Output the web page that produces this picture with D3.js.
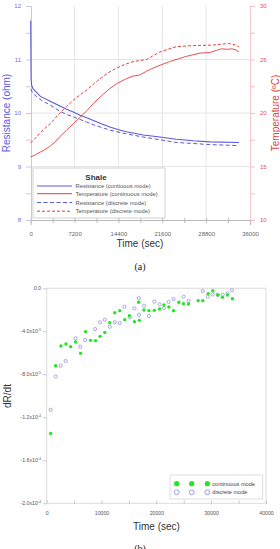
<!DOCTYPE html>
<html><head><meta charset="utf-8">
<script src="https://cdn.jsdelivr.net/npm/d3@7"></script>
<style>
html,body{margin:0;padding:0;background:#fff;}
svg{display:block;font-family:"Liberation Sans",Arial,sans-serif;}
</style></head>
<body>
<svg id="c" width="280" height="549"></svg>
<script>
// ---------- DATA (a) ----------
const resCont = [[0,11.73],[30,11.2],[60,10.65],[150,10.52],[400,10.45],[1000,10.38],[1600,10.31],[3200,10.22],[4800,10.13],[5900,10.07],[7000,10.02],[8100,9.96],[9200,9.91],[10300,9.86],[11600,9.8],[13000,9.74],[14300,9.69],[15700,9.65],[17000,9.62],[18500,9.59],[21200,9.55],[23900,9.51],[26700,9.48],[29400,9.46],[34200,9.45]];
const tempCont = [[0,15.9],[800,16.1],[1600,16.35],[2400,16.6],[3200,16.9],[4000,17.3],[4800,17.8],[5900,18.4],[7000,19.0],[8100,19.6],[9200,20.2],[10300,20.9],[11600,21.6],[13000,22.3],[14300,22.8],[15700,23.2],[16800,23.45],[17900,23.55],[19000,23.9],[20100,24.2],[21400,24.5],[22800,24.8],[24200,25.05],[25600,25.3],[26700,25.45],[27800,25.6],[29400,25.65],[30500,25.85],[31300,26.0],[32300,25.95],[33000,26.0],[33700,25.9],[34200,25.7]];
const resDisc = [[0,10.45],[300,10.38],[1000,10.3],[2000,10.22],[3200,10.15],[4800,10.03],[6000,9.97],[8100,9.88],[10300,9.78],[13000,9.68],[15700,9.61],[18500,9.55],[21200,9.5],[23900,9.45],[26700,9.43],[29400,9.41],[34200,9.39]];
const tempDisc = [[0,17.2],[1000,17.8],[2000,18.4],[3200,19.0],[4800,20.0],[5900,20.6],[7000,21.2],[8100,21.7],[9200,22.15],[10300,22.7],[11400,23.2],[12700,23.75],[14100,24.2],[15500,24.55],[16800,24.8],[19000,25.0],[20100,25.35],[21200,25.7],[22500,25.95],[23900,26.2],[26700,26.3],[30000,26.35],[32500,26.5],[33600,26.35],[34200,26.2]];
const xTicksA = [0,7200,14400,21600,28800,36000];
const resTicks = [8,9,10,11,12];
const tempTicks = [10,15,20,25,30];
const legendA = ["Resistance (contiuous mode)","Temperature (continuous mode)","Resistance (discrete mode)","Temperature (discrete mode)"];

// ---------- DATA (b) ---------- (dR/dt in units of 1e-5)
const contT = [727,1636,2600,3509,4363,5272,6180,7090,8000,8908,9745,10600,11508,12417,13326,14235,15090,15999,16908,16781,17745,18653,19636,20600,21381,22290,23143,24108,24963,25870,27635,28470,29450,30290,31200,32055,32963,33872];
const contV = [-13.5,-7.2,-5.37,-5.18,-5.43,-5.0,-6.05,-4.03,-4.84,-4.87,-4.47,-4.1,-3.2,-2.27,-2.08,-2.92,-2.55,-3.1,-2.98,-1.3,-2.02,-2.08,-2.05,-1.93,-1.55,-1.74,-2.08,-1.3,-1.43,-1.46,-1.15,-1.15,-0.5,-0.22,-0.62,-0.84,-0.62,-0.97];
const discT = [727,1636,2545,3454,5272,6108,7017,8835,9745,10600,11508,12417,13326,14180,15144,15999,16835,16781,17745,18653,19636,20600,21381,22236,23145,24963,25870,28470,29380,30290,31200,32100,33000,33800];
const discV = [-11.3,-8.2,-7.2,-6.76,-4.65,-5.43,-4.81,-3.79,-3.16,-2.92,-3.57,-3.16,-3.23,-1.71,-2.7,-1.86,-2.46,-0.93,-1.62,-2.58,-1.24,-1.49,-1.86,-1.27,-1.0,-0.78,-1.18,-0.25,-0.78,-0.56,-0.62,-0.6,-0.47,-0.19];
const xTicksB = [0,10000,20000,30000,40000];
const yTicksB = [0,-4,-8,-12,-16,-20];
const yTickBase = ["0.0","-4.0x10","-8.0x10","-1.2x10","-1.6x10","-2.0x10"];
const yTickExp = ["","-5","-5","-4","-4","-4"];
const legendB = ["continuous mode","discrete mode"];

const BLUE="#5a5ad8", RED="#e83c3c", GREEN="#22e622", OPEN="#8585e0";
const svg = d3.select("#c");

// ================= Chart (a) =================
const xA = d3.scaleLinear().domain([0,36000]).range([30.7,250]);
const yR = d3.scaleLinear().domain([8,12]).range([220,6]);
const yT = d3.scaleLinear().domain([10,30]).range([220,6]);
const gA = svg.append("g");

// grid
gA.selectAll(".vg").data(xTicksA.slice(1,5)).enter().append("line")
  .attr("x1",d=>xA(d)).attr("x2",d=>xA(d)).attr("y1",6).attr("y2",220)
  .attr("stroke","#e6e6ea").attr("stroke-width",1);
gA.selectAll(".hg").data([9,10,11]).enter().append("line")
  .attr("x1",31).attr("x2",250).attr("y1",d=>yR(d)).attr("y2",d=>yR(d))
  .attr("stroke","#e6e6ea").attr("stroke-width",1);

// axes
const axB = d3.axisBottom(xA).tickValues(d3.range(0,36001,3600)).tickSize(5).tickFormat(d=>xTicksA.includes(d)?d:"");
const gx = gA.append("g").attr("transform","translate(0,220)").call(axB);
gx.select(".domain").attr("stroke","#b8b8b8");
gx.selectAll(".tick line").attr("stroke","#bbb").attr("y1",-2).attr("y2",3);
gx.selectAll(".tick text").attr("font-size",6).attr("fill","#666").attr("dy",0).attr("y",16);

const axL = d3.axisLeft(yR).tickValues(d3.range(8,12.01,0.5)).tickSize(5).tickFormat(d=>resTicks.includes(d)?d:"");
const gl = gA.append("g").attr("transform","translate(31,0)").call(axL);
gl.select(".domain").attr("stroke","#c8c8e6");
gl.selectAll(".tick line").attr("stroke","#c8c8e6");
gl.selectAll(".tick text").attr("font-size",6).attr("fill","#6a6aea").attr("x",-10);

const axR = d3.axisRight(yT).tickValues(d3.range(10,30.01,2.5)).tickSize(5).tickFormat(d=>tempTicks.includes(d)?d:"");
const gr = gA.append("g").attr("transform","translate(250,0)").call(axR);
gr.select(".domain").attr("stroke","#f0c8c8");
gr.selectAll(".tick line").attr("stroke","#f0c0c0");
gr.selectAll(".tick text").attr("font-size",6).attr("fill","#e84c4c").attr("x",10);
[gx,gl,gr].forEach(g=>g.attr("font-family",null));

// lines
const lineR = d3.line().x(d=>xA(d[0])).y(d=>yR(d[1]));
const lineT = d3.line().x(d=>xA(d[0])).y(d=>yT(d[1]));
gA.append("path").attr("d",lineT(tempDisc)).attr("fill","none").attr("stroke",RED).attr("stroke-width",1).attr("stroke-dasharray","3,2");
gA.append("path").attr("d",lineR(resDisc)).attr("fill","none").attr("stroke",BLUE).attr("stroke-width",1).attr("stroke-dasharray","4,2.5");
gA.append("path").attr("d",lineT(tempCont)).attr("fill","none").attr("stroke",RED).attr("stroke-width",0.9);
gA.append("path").attr("d",lineR(resCont)).attr("fill","none").attr("stroke",BLUE).attr("stroke-width",1.1);

// legend (a)
const lg = gA.append("g");
lg.append("rect").attr("x",33).attr("y",168).attr("width",132).attr("height",50).attr("fill","#fff").attr("stroke","#c8c8c8").attr("stroke-width",0.8);
lg.append("text").attr("x",96).attr("y",180).attr("text-anchor","middle").attr("font-size",8).attr("font-weight","bold").attr("fill","#333").text("Shale");
const lgStyles = [[BLUE,null],[RED,null],[BLUE,"4,2.5"],[RED,"3,2"]];
const lgY = [186,193.7,202.5,211.2];
legendA.forEach((t,i)=>{
  lg.append("line").attr("x1",37).attr("x2",72).attr("y1",lgY[i]).attr("y2",lgY[i])
    .attr("stroke",lgStyles[i][0]).attr("stroke-width",1).attr("stroke-dasharray",lgStyles[i][1]);
  lg.append("text").attr("x",75.5).attr("y",lgY[i]+2).attr("font-size",5.8).attr("fill","#555").text(t);
});

// titles (a)
gA.append("text").attr("x",140).attr("y",247).attr("text-anchor","middle").attr("font-size",10).attr("fill","#333").text("Time (sec)");
gA.append("text").attr("transform","translate(9.5,113) rotate(-90)").attr("text-anchor","middle").attr("font-size",10).attr("fill","#5a5ae6").text("Resistance (ohm)");
gA.append("text").attr("transform","translate(279,113) rotate(-90)").attr("text-anchor","middle").attr("font-size",10).attr("fill","#e84040").text("Temperature (ºC)");
gA.append("text").attr("x",140).attr("y",270).attr("text-anchor","middle").attr("font-size",10).attr("font-family","Liberation Serif, serif").attr("fill","#222").text("(a)");

// ================= Chart (b) =================
const xB = d3.scaleLinear().domain([0,40000]).range([46.7,266]);
const yB = d3.scaleLinear().domain([-20,0]).range([503.3,288.3]);
const gB = svg.append("g");
gB.append("rect").attr("x",46.7).attr("y",288.3).attr("width",219.3).attr("height",215).attr("fill","none").attr("stroke","#dcdcdc").attr("stroke-width",1);

const axBx = d3.axisBottom(xB).tickValues(d3.range(0,40001,5000)).tickSize(4).tickFormat(d=>xTicksB.includes(d)?d:"");
const gbx = gB.append("g").attr("transform","translate(0,503.3)").call(axBx);
gbx.select(".domain").remove();
gbx.selectAll(".tick line").attr("stroke","#ccc").attr("y1",-3).attr("y2",1);
gbx.selectAll(".tick text").attr("font-size",5.2).attr("fill","#555").attr("y",8);

const axBy = d3.axisLeft(yB).tickValues(yTicksB).tickSize(4).tickFormat("");
const gby = gB.append("g").attr("transform","translate(46.7,0)").call(axBy);
gby.select(".domain").remove();
gby.selectAll(".tick line").attr("stroke","#ccc");
[gbx,gby].forEach(g=>g.attr("font-family",null));
yTicksB.forEach((v,i)=>{
  const t = gB.append("text").attr("x",41).attr("y",yB(v)+2).attr("text-anchor","end").attr("font-size",5.2).attr("fill","#555");
  t.append("tspan").text(yTickBase[i]);
  if (yTickExp[i]) t.append("tspan").attr("font-size",3.6).attr("dy",-2.2).text(yTickExp[i]);
});

// points
gB.selectAll(".pd").data(discT.map((t,i)=>[t,discV[i]])).enter().append("circle")
  .attr("cx",d=>xB(d[0])).attr("cy",d=>yB(d[1])).attr("r",1.6)
  .attr("fill","none").attr("stroke",OPEN).attr("stroke-width",0.7);
gB.selectAll(".pc").data(contT.map((t,i)=>[t,contV[i]])).enter().append("circle")
  .attr("cx",d=>xB(d[0])).attr("cy",d=>yB(d[1])).attr("r",1.7)
  .attr("fill",GREEN);

// legend (b)
const lb = gB.append("g");
lb.append("rect").attr("x",170).attr("y",475).attr("width",92.7).attr("height",24).attr("fill","#fff").attr("stroke","#d8d8d8").attr("stroke-width",0.8);
[176.7,191.7,207.3].forEach(cx=>{
  lb.append("circle").attr("cx",cx).attr("cy",483.7).attr("r",2.6).attr("fill",GREEN);
  lb.append("circle").attr("cx",cx).attr("cy",492.3).attr("r",2.4).attr("fill","none").attr("stroke",OPEN).attr("stroke-width",0.8);
});
lb.append("text").attr("x",212.3).attr("y",485.8).attr("font-size",5.6).attr("fill","#444").text(legendB[0]);
lb.append("text").attr("x",212.3).attr("y",494.4).attr("font-size",5.6).attr("fill","#444").text(legendB[1]);

// titles (b)
gB.append("text").attr("x",156.5).attr("y",529.5).attr("text-anchor","middle").attr("font-size",10).attr("fill","#333").text("Time (sec)");
gB.append("text").attr("transform","translate(11,396) rotate(-90)").attr("text-anchor","middle").attr("font-size",10).attr("fill","#333").text("dR/dt");
gB.append("text").attr("x",140).attr("y",552).attr("text-anchor","middle").attr("font-size",10).attr("font-family","Liberation Serif, serif").attr("fill","#222").text("(b)");
</script>
</body></html>
